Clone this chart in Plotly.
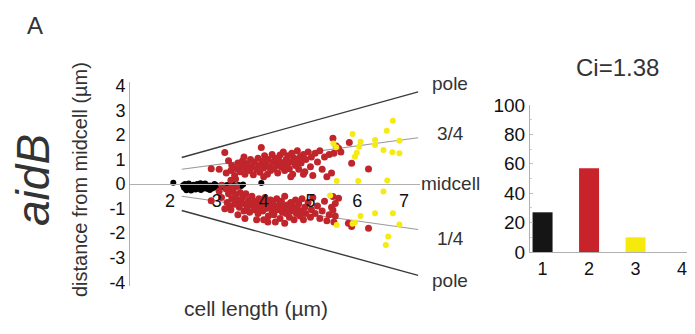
import plotly.graph_objects as go

# ---------------- data ----------------
black_x = [2.07, 2.28, 2.3, 2.32, 2.34, 2.36, 2.38, 2.4, 2.42, 2.44, 2.46, 2.48, 2.5, 2.52, 2.54,
           2.56, 2.58, 2.6, 2.62, 2.64, 2.66, 2.68, 2.7, 2.72, 2.74, 2.76, 2.78, 2.8, 2.82, 2.84,
           2.86, 2.88, 2.9, 2.92, 2.95, 2.98, 3.0, 3.03, 3.06, 3.1, 3.14, 3.18, 3.22, 3.26, 3.3,
           3.34, 3.38, 3.42, 3.47, 3.52, 3.56, 2.35, 2.45, 2.55, 2.65, 2.75, 2.85, 2.95, 3.05, 3.95]
black_y = [0.05, -0.05, -0.15, 0.0, -0.2, -0.08, -0.12, 0.02, -0.18, -0.06, -0.1, -0.22, -0.03, -0.14, -0.08,
           -0.2, 0.0, -0.1, -0.16, -0.05, -0.24, -0.12, -0.02, -0.18, -0.08, -0.14, -0.04, -0.2, -0.1, -0.16,
           -0.06, -0.12, -0.18, -0.08, -0.14, -0.04, -0.1, -0.16, -0.08, -0.12, -0.06, -0.1, -0.04, -0.12, -0.08,
           -0.02, -0.1, -0.06, -0.04, -0.08, -0.02, -0.25, -0.26, -0.22, 0.03, 0.02, -0.24, 0.0, -0.2, 0.04]

red_x = [2.88, 3.05, 3.17, 3.2, 3.3, 3.32, 3.38, 3.42, 3.45, 3.5, 3.52, 3.55, 3.6, 3.62, 3.65,
         3.7, 3.72, 3.75, 3.78, 3.8, 3.85, 3.88, 3.9, 3.92, 3.95, 3.97, 4.0, 4.02, 4.05, 4.08,
         4.1, 4.12, 4.15, 4.18, 4.2, 4.22, 4.25, 4.28, 4.3, 4.33, 4.35, 4.38, 4.4, 4.42, 4.45,
         4.48, 4.5, 4.52, 4.55, 4.58, 4.6, 4.62, 4.65, 4.68, 4.7, 4.72, 4.75, 4.78, 4.8, 4.85,
         4.88, 4.9, 4.95, 5.0, 5.02, 5.05, 5.1, 5.15, 5.2, 5.25, 5.3, 5.35, 5.4, 5.45, 5.48,
         5.5, 5.55, 5.6, 5.65, 5.83, 5.88, 6.24, 3.25, 3.58, 4.0, 4.58, 4.85, 3.4, 3.3,
         2.88, 3.05, 3.1, 3.17, 3.2, 3.22, 3.25, 3.28, 3.3, 3.32, 3.35, 3.38, 3.4, 3.42, 3.45,
         3.48, 3.5, 3.52, 3.55, 3.58, 3.6, 3.62, 3.65, 3.68, 3.7, 3.72, 3.75, 3.78, 3.8, 3.82,
         3.85, 3.88, 3.9, 3.92, 3.95, 3.98, 4.0, 4.03, 4.05, 4.08, 4.09, 4.1, 4.12, 4.15, 4.18,
         4.2, 4.22, 4.25, 4.28, 4.3, 4.33, 4.35, 4.38, 4.4, 4.42, 4.45, 4.48, 4.5, 4.52, 4.55,
         4.58, 4.6, 4.62, 4.65, 4.68, 4.7, 4.72, 4.75, 4.78, 4.8, 4.82, 4.85, 4.88, 4.9, 4.95,
         5.0, 5.02, 5.05, 5.1, 5.15, 5.2, 5.25, 5.3, 5.35, 5.4, 5.45, 5.48, 5.48, 5.53, 5.53,
         5.5, 5.6, 5.81, 5.88, 6.24, 3.3, 3.1, 3.45, 3.6, 3.85, 4.0, 4.25, 4.45]
red_y = [0.62, 0.6, 1.28, 0.45, 0.55, 0.75, 0.35, 0.62, 0.85, 0.5, 0.72, 0.95, 0.4, 0.65, 0.82,
         0.55, 1.0, 0.7, 0.38, 0.88, 0.6, 1.05, 0.75, 0.48, 1.49, 0.92, 0.65, 1.15, 0.82, 0.4,
         1.0, 0.7, 0.55, 1.2, 0.88, 0.62, 1.05, 0.75, 0.45, 0.95, 1.18, 0.68, 0.85, 1.3, 0.55,
         1.0, 0.78, 1.15, 0.62, 0.9, 1.25, 0.4, 1.05, 0.75, 0.95, 1.35, 0.6, 1.1, 0.85, 1.2,
         0.5, 1.0, 1.3, 0.7, 1.1, 0.35, 1.25, 0.9, 1.35, 0.6, 1.1, 0.3, 1.2, 0.45, 1.86,
         1.25, 1.55, 1.45, 1.3, 1.69, 0.84, 0.61, 0.95, 1.1, 0.3, 0.3, 0.4, 0.2, 0.15,
         -0.68, -0.3, -0.55, -1.01, -0.2, -0.75, -0.4, -0.9, -0.15, -0.6, -0.3, -0.82, -0.45, -0.1, -0.65,
         -0.95, -0.35, -0.75, -0.55, -1.1, -0.8, -0.4, -0.95, -0.65, -1.15, -0.75, -0.5, -0.9, -1.05, -0.7,
         -0.85, -1.2, -0.6, -0.95, -0.75, -1.1, -0.85, -0.55, -1.0, -0.7, -1.55, -1.3, -0.9, -0.65, -1.1,
         -0.8, -1.25, -0.95, -0.6, -1.05, -0.85, -1.4, -0.7, -1.15, -0.95, -0.5, -1.2, -0.85, -1.05, -1.35,
         -0.75, -1.1, -0.9, -1.45, -0.65, -1.2, -1.0, -0.8, -1.3, -1.1, -0.6, -1.45, -0.95, -1.2, -0.75,
         -1.35, -1.05, -0.55, -1.2, -0.9, -1.4, -1.1, -0.7, -1.5, -1.25, -0.95, -0.51, -1.06, -0.79, -1.3,
         -1.55, -0.58, -1.6, -1.73, -1.8, -1.05, -0.05, -1.25, -1.4, -1.45, -1.45, -1.55, -1.6]

yellow_x = [6.76, 6.63, 5.9, 6.07, 6.38, 6.38, 6.9, 6.56, 6.75, 6.9, 6.04, 5.99, 5.95, 5.49, 5.55,
            5.56, 6.02, 6.64, 6.56, 5.42, 6.07, 6.38, 6.76, 6.9, 5.95, 5.56, 6.66, 6.61, 5.9]
yellow_y = [2.57, 2.17, 2.03, 1.72, 1.79, 1.59, 1.76, 1.38, 1.29, 1.25, 1.52, 1.27, 1.11, 1.65, 1.5,
            0.12, 0.12, 0.14, -0.31, -0.47, -1.3, -1.19, -1.19, -1.65, -1.57, -1.67, -2.14, -2.48, -1.62]

# model lines (cell length vs. positions)
line_len = [2.25, 7.3]
pole_top = [1.08, 3.75]
quarter_top = [0.6, 1.88]
quarter_bot = [-0.5, -1.85]
pole_bot = [-1.08, -3.72]
line_labels = ["pole", "3/4", "midcell", "1/4", "pole"]

x_ticks = [2, 3, 4, 5, 6, 7]
y_ticks = [-4, -3, -2, -1, 0, 1, 2, 3, 4]
y_tick_text = ["-4", "-3", "-2", "-1", "0", "1", "2", "3", "4"]

bar_cats = [1, 2, 3, 4]
bar_vals = [27, 57, 10, 0]
bar_colors = ["#151515", "#c8232b", "#f6ea0c", "#cccccc"]
bar_yticks = [0, 20, 40, 60, 80, 100]
ci_text = "Ci=1.38"

# ---------------- layout geometry ----------------
W, H = 695, 334
OFF = 8  # page body margin offset


def px_x(p):
    return (p - OFF) / W


def px_y(p):
    return 1 - (p - OFF) / H


FONT = "Liberation Sans, Arial, sans-serif"

y_range = [-4.15, 4.15]
y_dom = [px_y(286.0), px_y(82.0)]
x_range = [1.145, 7.34]
x_dom = [px_x(130.0), px_x(420.0)]
zero_pos = y_dom[0] + (y_dom[1] - y_dom[0]) * (0 - y_range[0]) / (y_range[1] - y_range[0])

fig = go.Figure()

for yy, col, wd in [(pole_top, "#3a3a3a", 1.4), (quarter_top, "#9a9a9a", 1.1),
                    (quarter_bot, "#9a9a9a", 1.1), (pole_bot, "#3a3a3a", 1.4)]:
    fig.add_trace(go.Scatter(x=line_len, y=yy, mode="lines", line=dict(color=col, width=wd),
                             hoverinfo="skip", showlegend=False, xaxis="x", yaxis="y"))

fig.add_trace(go.Scatter(x=black_x, y=black_y, mode="markers",
                         marker=dict(color="#000000", size=6), showlegend=False))
fig.add_trace(go.Scatter(x=red_x, y=red_y, mode="markers",
                         marker=dict(color="#c1252c", size=7), showlegend=False))
fig.add_trace(go.Scatter(x=yellow_x, y=yellow_y, mode="markers",
                         marker=dict(color="#f5ea12", size=6), showlegend=False))

fig.add_trace(go.Bar(x=bar_cats, y=bar_vals, marker=dict(color=bar_colors, line=dict(width=0)),
                     width=0.43, xaxis="x2", yaxis="y2", showlegend=False))

fig.update_layout(
    width=W, height=H, margin=dict(l=0, r=0, t=0, b=0, pad=0, autoexpand=False),
    paper_bgcolor="white", plot_bgcolor="rgba(0,0,0,0)",
    font=dict(family=FONT, color="#2a2a2a"),
    xaxis=dict(domain=x_dom, range=x_range, anchor="free", position=zero_pos,
               showline=True, linecolor="#b0b0b0", linewidth=1, showgrid=False, zeroline=False,
               tickvals=x_ticks, ticks="", tickfont=dict(size=18, color="#111")),
    yaxis=dict(domain=y_dom, range=y_range, anchor="x", showline=True, linecolor="#b0b0b0",
               linewidth=1, showgrid=False, zeroline=False, tickvals=y_ticks, ticktext=y_tick_text,
               ticks="", tickfont=dict(size=18, color="#111")),
    xaxis2=dict(domain=[px_x(530.0), 1.0], range=[0.73, 4.45], anchor="y2", showline=True,
                linecolor="#b0b0b0", showgrid=False, zeroline=False, tickvals=bar_cats, ticks="",
                tickfont=dict(size=18, color="#111")),
    yaxis2=dict(domain=[px_y(252.0), px_y(105.0)], range=[0, 100], anchor="x2", showline=True,
                linecolor="#b0b0b0", showgrid=False, zeroline=False, tickvals=bar_yticks,
                ticks="inside", ticklen=3, tickcolor="#c0c0c0",
                minor=dict(dtick=10, ticks="inside", ticklen=2, tickcolor="#d0d0d0"),
                tickfont=dict(size=19, color="#111")),
)


def note(text, cx, cy, size, angle=0):
    return dict(text=text, x=px_x(cx), y=px_y(cy), xref="paper", yref="paper",
                xanchor="center", yanchor="middle", showarrow=False, textangle=angle,
                font=dict(size=size, color="#333"))


label_y_px = [83, 133, 183, 238, 280]
annos = [note(t, 450, py, 19) for t, py in zip(line_labels, label_y_px)]
annos += [
    note("A", 35, 25, 24),
    note("<i>aidB</i>", 33, 180, 46, -90),
    note("distance from midcell (µm)", 80, 180, 20, -90),
    note("cell length (µm)", 256, 308, 21),
    note(ci_text, 617, 67, 24),
]
fig.update_layout(annotations=annos)

fig.write_html("out.html")
